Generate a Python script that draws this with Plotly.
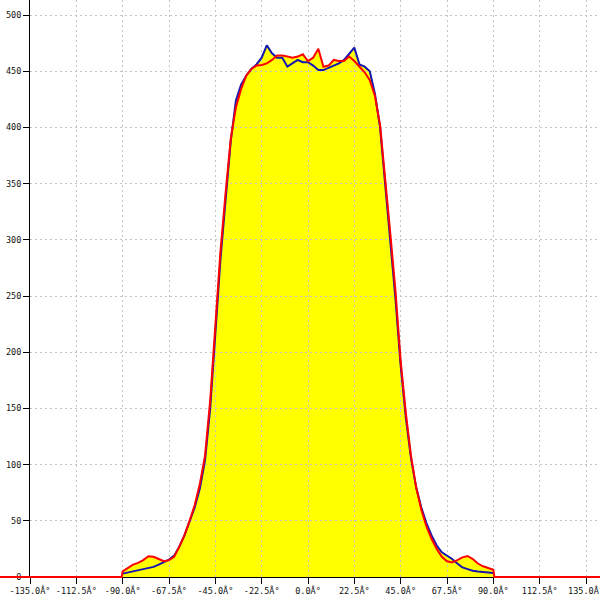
import plotly.graph_objects as go

# ---- data ----
angles = [-90, -87.5, -85, -82.5, -80, -77.5, -75, -72.5, -70, -67.5, -65, -62.5, -60,
          -57.5, -55, -52.5, -50, -47.5, -45, -42.5, -40, -37.5, -35, -32.5, -30, -27.5,
          -25, -22.5, -20, -17.5, -15, -12.5, -10, -7.5, -5, -2.5, 0, 2.5, 5, 7.5, 10,
          12.5, 15, 17.5, 20, 22.5, 25, 27.5, 30, 32.5, 35, 37.5, 40, 42.5, 45, 47.5, 50,
          52.5, 55, 57.5, 60, 62.5, 65, 67.5, 70, 72.5, 75, 77.5, 80, 82.5, 85, 87.5, 90]

blue_vals = [3, 4, 5, 5.5, 6.5, 8, 9, 11, 13, 15.5, 19, 27, 37,
             49, 62, 79, 104, 150, 218, 283, 336, 388, 424, 438, 446, 452,
             456, 462, 473, 466, 462, 462, 454, 457, 460, 458, 458, 455, 451, 451, 453,
             455, 457, 460, 466, 471, 456, 454, 450, 430, 400, 350, 300, 247, 188, 142, 106,
             80, 62, 48, 37, 28, 22, 19, 16, 12, 8.5, 7, 5.5, 4.8, 4.2, 3.8, 3.5]

red_angles = [-180, -90.5] + angles + [90.5, 180]
red_vals = [0, 0,
            5, 8, 11, 12.5, 15, 18.5, 18, 16, 14, 15, 18, 27, 37,
            50, 64, 83, 108, 157, 224, 290, 342, 390, 418, 434, 446, 452,
            455, 455.5, 457, 460, 464, 464, 463, 462, 463, 465, 459, 462, 470, 454, 455,
            460, 459, 459, 463, 459, 454, 449, 442, 428, 402, 355, 305, 254, 192, 146, 108,
            80, 60, 45, 34, 25, 18, 14, 13, 15, 17.5, 18.7, 16, 12, 9.5, 8, 6.5,
            0, 0]

x_ticks = [-135, -112.5, -90, -67.5, -45, -22.5, 0, 22.5, 45, 67.5, 90, 112.5, 135]
x_tick_text = ["%.1fÂ°" % v for v in x_ticks]
y_ticks = [0, 50, 100, 150, 200, 250, 300, 350, 400, 450, 500]

# ---- geometry (pixel calibration) ----
W = H = 600
left_px, right_px_tick = 30, 586     # pixel of -135 and 135
bottom_px, top_px_tick = 577, 15     # pixel of 0 and 500
ppd = (right_px_tick - left_px) / 270.0
ppu = (bottom_px - top_px_tick) / 500.0
x_full = [-135 - left_px / ppd, 135 + (W - right_px_tick) / ppd]
y_full = [-(H - bottom_px) / ppu, 500 + top_px_tick / ppu]

YELLOW = "#ffff00"
BLUE = "#1515b0"
RED = "#ff0000"

fig = go.Figure()

# fills (bottom subplot, full page)
fig.add_trace(go.Scatter(x=angles, y=blue_vals, mode="lines", fill="tozeroy",
                         fillcolor=YELLOW, line=dict(width=0, color=YELLOW),
                         xaxis="x", yaxis="y", hoverinfo="skip", showlegend=False))
fig.add_trace(go.Scatter(x=red_angles, y=red_vals, mode="lines", fill="tozeroy",
                         fillcolor=YELLOW, line=dict(width=0, color=YELLOW),
                         xaxis="x", yaxis="y", hoverinfo="skip", showlegend=False))

# blue line on the axis subplot
fig.add_trace(go.Scatter(x=angles, y=blue_vals, mode="lines",
                         line=dict(color=BLUE, width=2),
                         xaxis="x2", yaxis="y2", showlegend=False))

# red line on top subplot (full page)
fig.add_trace(go.Scatter(x=red_angles, y=red_vals, mode="lines",
                         line=dict(color=RED, width=2),
                         xaxis="x3", yaxis="y3", showlegend=False))

hidden = dict(visible=False, showgrid=False, zeroline=False, automargin=False)
tickfont = dict(family="DejaVu Sans Mono", size=8.5, color="#111111")

fig.update_layout(
    template="none",
    width=W, height=H,
    margin=dict(l=0, r=0, t=0, b=0, pad=0, autoexpand=False),
    paper_bgcolor="white",
    plot_bgcolor="rgba(0,0,0,0)",
    showlegend=False,
    xaxis=dict(domain=[0, 1], range=x_full, anchor="y", **hidden),
    yaxis=dict(domain=[0, 1], range=y_full, anchor="x", **hidden),
    xaxis2=dict(domain=[left_px / W, 1], range=[-135, x_full[1]], anchor="y2",
                automargin=False, ticklabeloverflow="allow",
                showline=True, linecolor="black", linewidth=1,
                ticks="outside", ticklen=6, tickcolor="black", tickwidth=1,
                tickmode="array", tickvals=x_ticks, ticktext=x_tick_text,
                tickfont=tickfont, showgrid=True, gridcolor="#c4c4c4",
                gridwidth=1, griddash="2px,3px", zeroline=False, layer="below traces"),
    yaxis2=dict(domain=[(H - bottom_px) / H, 1], range=[0, y_full[1]], anchor="x2",
                automargin=False, ticklabeloverflow="allow",
                showline=True, linecolor="black", linewidth=1,
                ticks="outside", ticklen=6, tickcolor="black", tickwidth=1,
                tickmode="array", tickvals=y_ticks,
                tickfont=tickfont, showgrid=True, gridcolor="#c4c4c4",
                gridwidth=1, griddash="2px,3px", zeroline=False, layer="below traces"),
    xaxis3=dict(domain=[0, 1], range=x_full, anchor="y3", **hidden),
    yaxis3=dict(domain=[0, 1], range=y_full, anchor="x3", **hidden),
)

fig.write_html("out.html",
               config={"displayModeBar": False},
               post_script="document.body.style.margin='0';document.body.style.overflow='hidden';")
